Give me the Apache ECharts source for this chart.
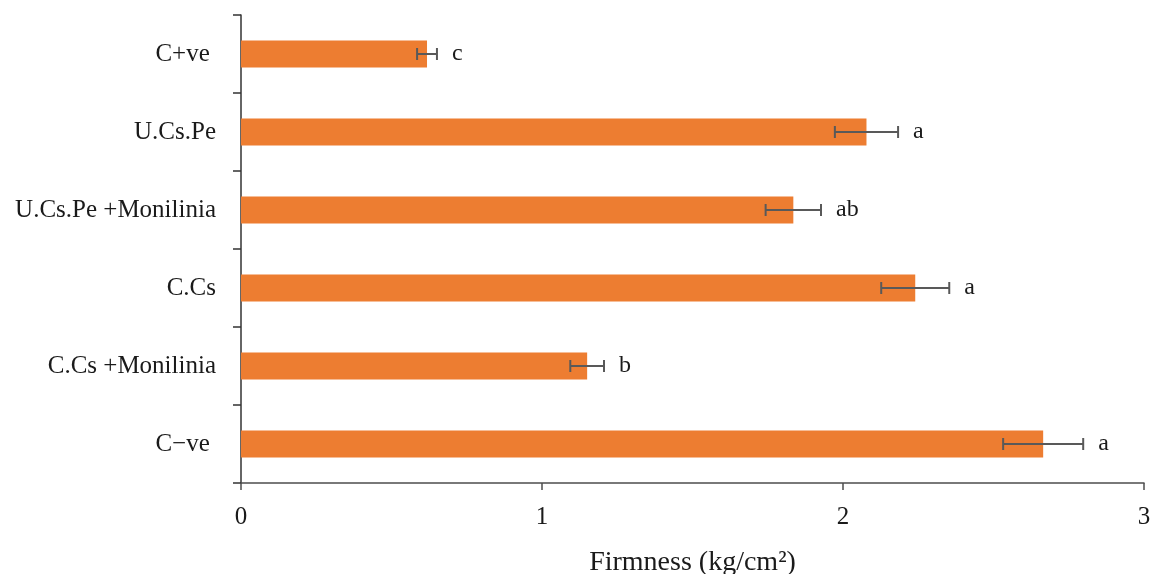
<!DOCTYPE html>
<html>
<head>
<meta charset="utf-8" />
<title>Firmness</title>
<script src="https://cdn.jsdelivr.net/npm/echarts@6/dist/echarts.min.js"></script>
<style>
  html, body { margin: 0; padding: 0; background: #fff; }
  #main { width: 1151px; height: 574px; }
</style>
</head>
<body>
<div id="main"></div>
<script>
// categories listed bottom -> top
var categories = ['C\u2212ve ', 'C.Cs +Monilinia', 'C.Cs', 'U.Cs.Pe +Monilinia', 'U.Cs.Pe', 'C+ve '];
var firmness = [2.665, 1.15, 2.24, 1.835, 2.078, 0.618];
var stdErr = [0.133, 0.056, 0.113, 0.092, 0.105, 0.033];
var letters = ['a', 'b', 'a', 'ab', 'a', 'c'];
var xTicks = [0, 1, 2, 3];

var serif = '"Liberation Serif", "DejaVu Serif", serif';

var errData = firmness.map(function (m, i) {
  return [m - stdErr[i], m + stdErr[i], i];
});

var chart = echarts.init(document.getElementById('main'));

chart.setOption({
  animation: false,
  grid: { left: 241, right: 7, top: 15, bottom: 91, outerBoundsMode: 'none' },
  xAxis: {
    type: 'value',
    min: xTicks[0],
    max: xTicks[xTicks.length - 1],
    interval: 1,
    name: 'Firmness (kg/cm\u00B2)',
    nameLocation: 'middle',
    nameGap: 66,
    nameTextStyle: { fontFamily: serif, fontSize: 28, color: '#1a1a1a' },
    axisLine: { show: true, lineStyle: { color: '#4d4d4d', width: 1.5 } },
    axisTick: { show: true, length: 7, lineStyle: { color: '#4d4d4d', width: 1.5 } },
    axisLabel: { margin: 22, fontFamily: serif, fontSize: 25, color: '#1a1a1a' },
    splitLine: { show: false }
  },
  yAxis: {
    type: 'category',
    data: categories,
    axisLine: { show: true, lineStyle: { color: '#333', width: 1.5 } },
    axisTick: { show: true, length: 8, lineStyle: { color: '#333', width: 1.5 } },
    axisLabel: { margin: 25, fontFamily: serif, fontSize: 25, color: '#1a1a1a' }
  },
  series: [{
    type: 'bar',
    data: firmness,
    barWidth: 27,
    itemStyle: { color: '#ED7D31' }
  }, {
    type: 'custom',
    z: 5,
    data: errData,
    encode: { x: [0, 1], y: 2 },
    renderItem: function (params, api) {
      var lo = api.coord([api.value(0), api.value(2)]);
      var hi = api.coord([api.value(1), api.value(2)]);
      var h = 6;
      var st = { stroke: '#595959', lineWidth: 2 };
      return {
        type: 'group',
        children: [
          { type: 'line', shape: { x1: lo[0], y1: lo[1], x2: hi[0], y2: hi[1] }, style: st },
          { type: 'line', shape: { x1: lo[0], y1: lo[1] - h, x2: lo[0], y2: lo[1] + h }, style: st },
          { type: 'line', shape: { x1: hi[0], y1: hi[1] - h, x2: hi[0], y2: hi[1] + h }, style: st },
          {
            type: 'text',
            x: hi[0] + 15,
            y: hi[1],
            style: {
              text: letters[params.dataIndex],
              font: '24px ' + serif,
              fill: '#1a1a1a',
              align: 'left',
              verticalAlign: 'middle'
            }
          }
        ]
      };
    }
  }]
});
</script>
</body>
</html>
